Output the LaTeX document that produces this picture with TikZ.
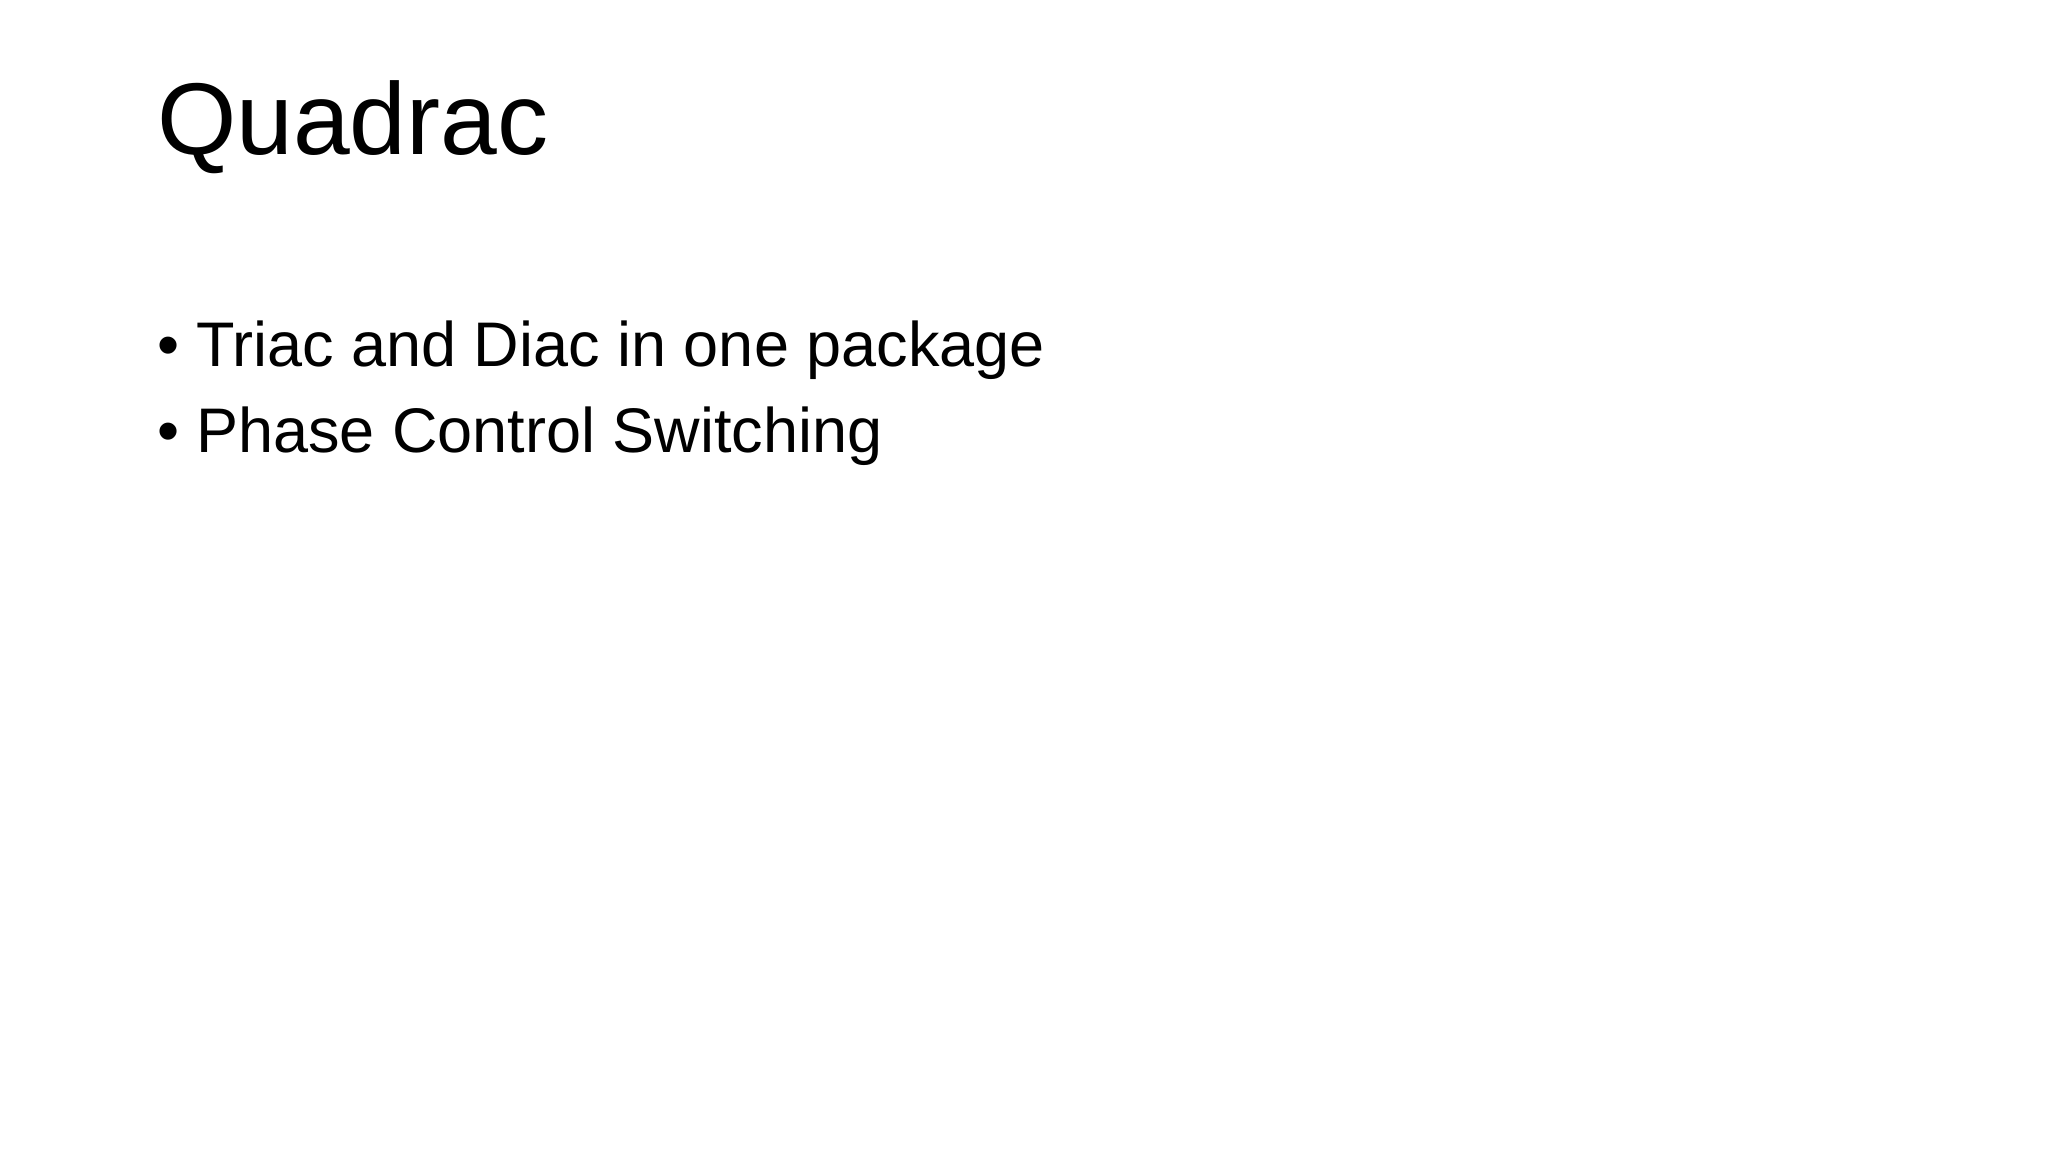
\documentclass[tikz,border=0pt]{standalone}
\usepackage{fontspec}
\setmainfont{Liberation Sans}
\begin{document}
\begin{tikzpicture}[x=1pt,y=1pt,
  title/.style={anchor=base west,inner sep=0pt,font=\fontsize{102}{120}\selectfont},
  body/.style={anchor=base west,inner sep=0pt,font=\fontsize{63}{75}\selectfont}]
\useasboundingbox[fill=white] (0,0) rectangle (2048,-1152);
\node[title] (t) at (157,-154) {Quadrac};
\node[body] (b1) at (157,-366) {•};
\node[body] (l1) at (196,-366) {Triac and Diac in one package};
\node[body] (b2) at (157,-452) {•};
\node[body] (l2) at (196,-452) {Phase Control Switching};
\end{tikzpicture}
\end{document}
